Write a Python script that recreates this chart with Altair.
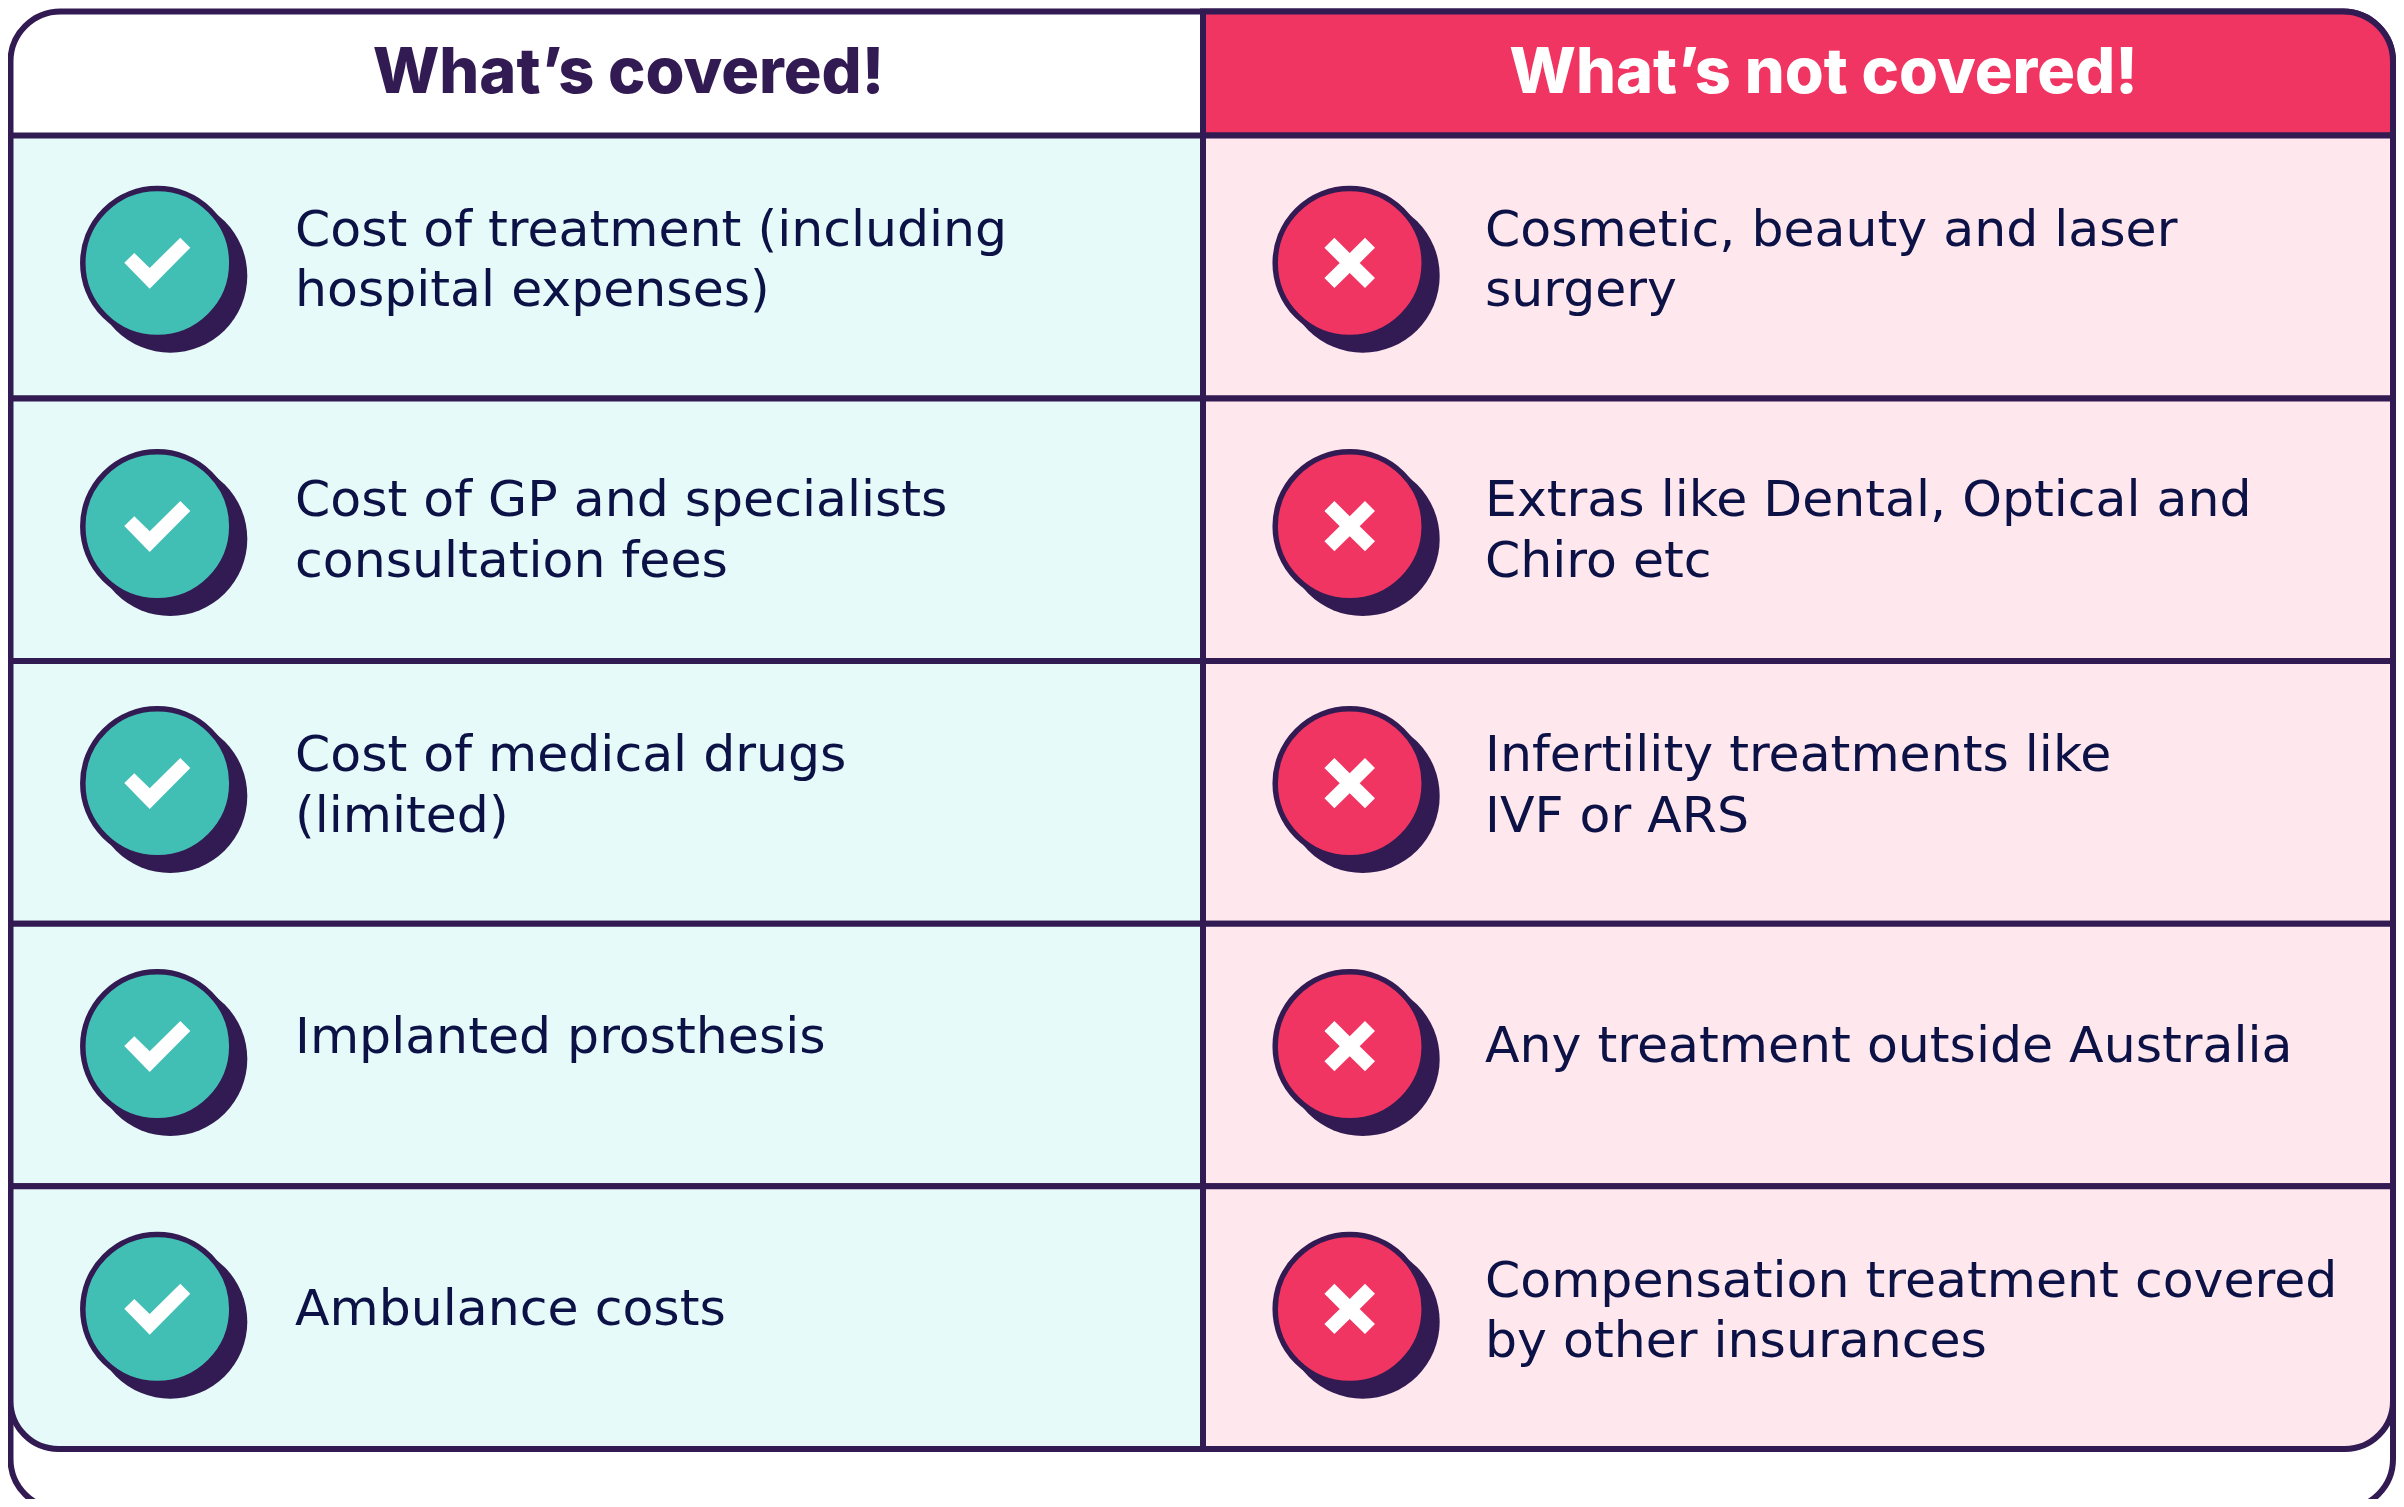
import altair as alt
import pandas as pd

INK = "#321a52"
TEXT = "#0c1146"
TEAL = "#42bfb5"
RED = "#f03562"
LTEAL = "#e5faf9"
LPINK = "#fee8ee"
BODY_FONT = "DejaVu Sans"
HEAD_FONT = "Inter"
LINE = 6

col_edges = [10.5, 1203, 2393]
row_edges = [135.5, 398.5, 661, 923.8, 1186.3, 1449]
frame_top = 11.5
frame_bottom = 1509

icon_y = [263, 526.3, 783.3, 1046.3, 1309]
icon_x = [157.3, 1349.7]
shadow_dx = 13
shadow_dy = 12.7

head_texts = ["What\u2019s covered!", "What\u2019s not covered!"]
head_x = [628.5, 1823.5]
head_baseline = 92.5

left_lines = ["Cost of treatment (including", "hospital expenses)",
              "Cost of GP and specialists", "consultation fees",
              "Cost of medical drugs", "(limited)",
              "Implanted prosthesis", "Ambulance costs"]
left_base = [245.7, 306, 516, 576.7, 771, 832.3, 1053.3, 1325]
right_lines = ["Cosmetic, beauty and laser", "surgery",
               "Extras like Dental, Optical and", "Chiro etc",
               "Infertility treatments like", "IVF or ARS",
               "Any treatment outside Australia",
               "Compensation treatment covered", "by other insurances"]
right_base = [245.7, 306, 516, 576.7, 771, 832.3, 1062.3, 1296.7, 1357.3]
text_x = [295, 1485]

CHECK = "M -0.33 -0.003 L -0.23 -0.10 L -0.076 0.05 L 0.23 -0.253 L 0.33 -0.153 L -0.076 0.257 Z"
CROSS = ("M -0.153 -0.253 L 0 -0.10 L 0.153 -0.253 L 0.253 -0.153 L 0.10 0 L 0.253 0.15 "
         "L 0.153 0.25 L 0 0.10 L -0.153 0.25 L -0.253 0.15 L -0.10 0 L -0.253 -0.153 Z")

X = alt.X("x:Q", scale=alt.Scale(domain=[8, 2396]), axis=None)
Y = alt.Y("y:Q", scale=alt.Scale(domain=[1499, 8]), axis=None)
X2 = alt.X2("x2:Q")
Y2 = alt.Y2("y2:Q")


def rect(x, x2, y, y2, fill, **corners):
    d = pd.DataFrame({"x": [x], "x2": [x2], "y": [y], "y2": [y2]})
    return alt.Chart(d).mark_rect(fill=fill, stroke=INK, strokeWidth=LINE, clip=True, **corners).encode(
        x=X, x2=X2, y=Y, y2=Y2)


def dots(xs, ys, size, fill, stroke_width=0):
    d = pd.DataFrame({"x": xs, "y": ys})
    return alt.Chart(d).mark_point(shape="circle", filled=True, fill=fill, stroke=INK,
                                   strokeWidth=stroke_width, size=size, opacity=1).encode(x=X, y=Y)


def icon(x, shape):
    d = pd.DataFrame({"x": [x] * len(icon_y), "y": icon_y})
    return alt.Chart(d).mark_point(shape=shape, filled=True, fill="#ffffff", strokeWidth=0,
                                   size=40000, opacity=1).encode(x=X, y=Y)


def texts(lines, x, ys, font, size, color, weight, align):
    d = pd.DataFrame({"t": lines, "x": x, "y": ys})
    return alt.Chart(d).mark_text(align=align, baseline="alphabetic", font=font, fontSize=size,
                                  fontWeight=weight, color=color).encode(x=X, y=Y, text="t:N")


layers = [
    rect(col_edges[0], col_edges[2], frame_top, frame_bottom, "#ffffff", cornerRadius=50),
    rect(col_edges[1], col_edges[2], frame_top, row_edges[0], RED, cornerRadiusTopRight=50),
]
n = len(row_edges) - 1
for i in range(n):
    kw_l = {"cornerRadiusBottomLeft": 48} if i == n - 1 else {}
    kw_r = {"cornerRadiusBottomRight": 48} if i == n - 1 else {}
    layers.append(rect(col_edges[0], col_edges[1], row_edges[i], row_edges[i + 1], LTEAL, **kw_l))
    layers.append(rect(col_edges[1], col_edges[2], row_edges[i], row_edges[i + 1], LPINK, **kw_r))

for cx, fill, shape in [(icon_x[0], TEAL, CHECK), (icon_x[1], RED, CROSS)]:
    layers.append(dots([cx + shadow_dx] * len(icon_y), [v + shadow_dy for v in icon_y], 23716, INK))
    layers.append(dots([cx] * len(icon_y), icon_y, 22201, fill, 5.5))
    layers.append(icon(cx, shape))

layers.append(texts([head_texts[0]], head_x[0], [head_baseline], HEAD_FONT, 63, INK, 800, "center"))
layers.append(texts([head_texts[1]], head_x[1], [head_baseline], HEAD_FONT, 63, "#ffffff", 800, "center"))
layers.append(texts(left_lines, text_x[0], left_base, BODY_FONT, 50.5, TEXT, 400, "left"))
layers.append(texts(right_lines, text_x[1], right_base, BODY_FONT, 50.5, TEXT, 400, "left"))

chart = alt.layer(*layers).properties(
    width=2388, height=1491, padding=0, background="#ffffff"
).configure_view(stroke=None)

chart.save("out.html", embed_options={"renderer": "svg", "actions": False})
